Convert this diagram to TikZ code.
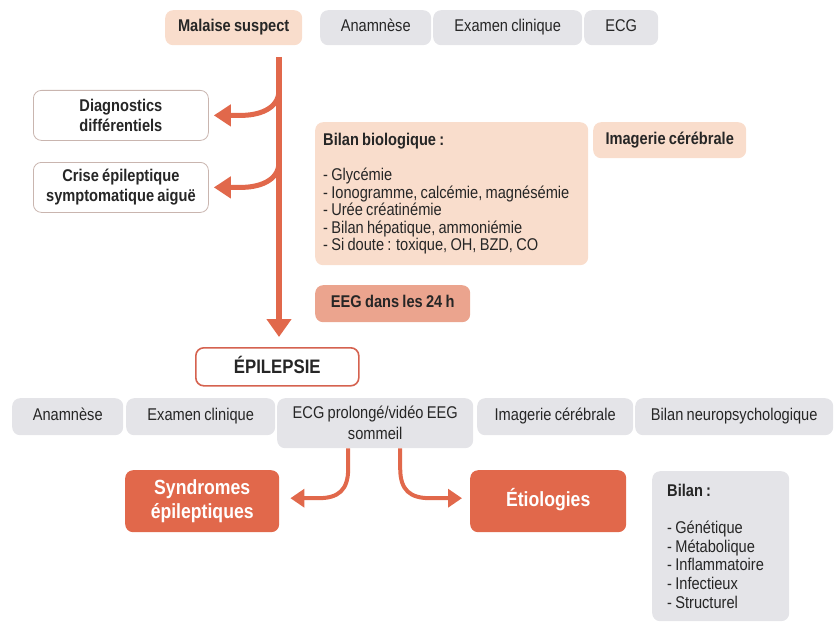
\documentclass[tikz,border=0pt]{standalone}
\usepackage{fontspec}
\setmainfont{Liberation Sans}[FakeStretch=0.86, WordSpace=0.8]
\usetikzlibrary{arrows.meta,calc}
\definecolor{peach}{HTML}{F9DDCC}
\definecolor{salmon}{HTML}{EBA48E}
\definecolor{greybox}{HTML}{E4E4E8}
\definecolor{flame}{HTML}{E1684B}
\definecolor{ink}{HTML}{262626}
\definecolor{thinrim}{HTML}{C9B5AF}
\definecolor{redrim}{HTML}{D5624F}

\begin{document}
\begin{tikzpicture}[x=1pt,y=-1pt,
  base/.style={rounded corners=8pt, anchor=north west, inner sep=0pt,
    align=center, text=ink, font=\fontsize{17}{20}\selectfont},
  oneline/.style={text height=12pt, text depth=3.5pt},
  greyb/.style={base, oneline, fill=greybox},
  peachb/.style={base, oneline, fill=peach, font=\bfseries\fontsize{17}{20}\selectfont},
  salmonb/.style={base, oneline, fill=salmon, font=\bfseries\fontsize{17}{20}\selectfont},
  outline/.style={base, fill=white, draw=thinrim, line width=0.8pt,
    font=\bfseries\fontsize{17}{20}\selectfont},
  flameb/.style={base, fill=flame, text=white, font=\bfseries\fontsize{20.5}{23.5}\selectfont},
  bigarrow/.style={draw=flame, line width=5.5pt, -{Triangle[length=18pt,width=24pt]}},
  brancharrow/.style={draw=flame, line width=5pt, -{Triangle[length=17pt,width=21pt]}},
  smallarrow/.style={draw=flame, line width=4pt, -{Triangle[length=14pt,width=18pt]}},
]
\useasboundingbox (0,0) rectangle (837,623);

% top line
\node[peachb, minimum width=137, minimum height=35] (mal) at (165,10) {Malaise suspect};
\node[greyb, minimum width=111, minimum height=35] (an1) at (320,10) {Anamnèse};
\node[greyb, minimum width=149, minimum height=35] (ex1) at (433,10) {Examen clinique};
\node[greyb, minimum width=74, minimum height=35] (ecg1) at (584,10) {ECG};

% differential boxes
\node[outline, minimum width=175, minimum height=50] (diag) at (33,90) {Diagnostics\\différentiels};
\node[outline, minimum width=175, minimum height=50] (crise) at (33,162) {Crise épileptique\\symptomatique aiguë};

% work-up
\node[base, fill=peach, minimum width=273, minimum height=143, text width=257,
  inner xsep=8pt, align=flush left, font=\fontsize{17}{17.5}\selectfont] (bio) at (315,122)
  {{\bfseries Bilan biologique :}\\[17.5pt]
   - Glycémie\\
   - Ionogramme, calcémie, magnésémie\\
   - Urée créatinémie\\
   - Bilan hépatique, ammoniémie\\
   - Si doute : toxique, OH, BZD, CO};
\node[peachb, minimum width=153, minimum height=36] (img1) at (593,122) {Imagerie cérébrale};
\node[salmonb, minimum width=155, minimum height=37] (eeg) at (315,285) {EEG dans les 24 h};

% epilepsy
\node[base, fill=white, draw=redrim, line width=1.6pt, minimum width=163, minimum height=38,
  text height=14pt, text depth=0pt,
  font=\bfseries\fontsize{19.5}{22}\selectfont] (epi) at (195,347) {ÉPILEPSIE};

% second row of exams
\node[greyb, minimum width=111, minimum height=37] (an2) at (12,398) {Anamnèse};
\node[greyb, minimum width=149, minimum height=37] (ex2) at (126,398) {Examen clinique};
\node[base, fill=greybox, minimum width=196, minimum height=50,
  font=\fontsize{17}{21}\selectfont] (ecg2) at (277,398) {ECG prolongé/vidéo EEG\\sommeil};
\node[greyb, minimum width=156, minimum height=37] (img2) at (477,398) {Imagerie cérébrale};
\node[greyb, minimum width=198, minimum height=37] (neuro) at (635,398) {Bilan neuropsychologique};

% outcomes
\node[flameb, minimum width=154, minimum height=62] (syn) at (125,470) {Syndromes\\épileptiques};
\node[flameb, minimum width=156, minimum height=62, text height=14.5pt, text depth=4pt]
  (eti) at (470,470) {Étiologies};
\node[base, fill=greybox, minimum width=137, minimum height=150, text width=107,
  inner xsep=15pt, align=flush left, font=\fontsize{17}{18.7}\selectfont] (bil) at (652,471)
  {{\bfseries Bilan :}\\[18.7pt]
   - Génétique\\
   - Métabolique\\
   - Inflammatoire\\
   - Infectieux\\
   - Structurel};

% main trunk with its two side branches
\coordinate (trunk) at (279,57);
\coordinate (b1) at (279,90);
\coordinate (b2) at (279,162);
\draw[bigarrow] (trunk) -- ([yshift=10pt]trunk |- epi.north);
\draw[brancharrow] (b1) .. controls +(0,20) and +(16,0) .. ($(b1 |- diag.east)+(-38,0)$)
  -- ([xshift=5pt]diag.east);
\draw[brancharrow] (b2) .. controls +(0,20) and +(16,0) .. ($(b2 |- crise.east)+(-38,0)$)
  -- ([xshift=5pt]crise.east);

% lower arrows
\coordinate (l1) at ($(ecg2.south)+(-27,0)$);
\coordinate (r1) at ($(ecg2.south)+(25,0)$);
\draw[smallarrow] (l1) -- ++(0,20) .. controls +(0,22) and +(20,0) .. ($(l1 |- syn.east)+(-30,-3)$)
  -- ($(syn.east)+(11,-3)$);
\draw[smallarrow] (r1) -- ++(0,20) .. controls +(0,22) and +(-20,0) .. ($(r1 |- eti.west)+(30,-3)$)
  -- ($(eti.west)+(-8,-3)$);
\end{tikzpicture}
\end{document}
